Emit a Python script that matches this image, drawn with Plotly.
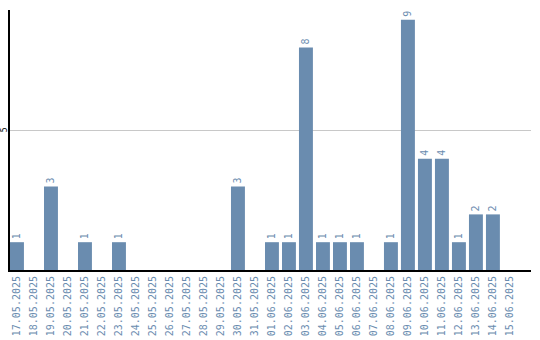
import plotly.graph_objects as go

dates = ["17.05.2025","18.05.2025","19.05.2025","20.05.2025","21.05.2025","22.05.2025",
         "23.05.2025","24.05.2025","25.05.2025","26.05.2025","27.05.2025","28.05.2025",
         "29.05.2025","30.05.2025","31.05.2025","01.06.2025","02.06.2025","03.06.2025",
         "04.06.2025","05.06.2025","06.06.2025","07.06.2025","08.06.2025","09.06.2025",
         "10.06.2025","11.06.2025","12.06.2025","13.06.2025","14.06.2025","15.06.2025"]
values = [1,0,3,0,1,0,1,0,0,0,0,0,0,3,0,1,1,8,1,1,1,0,1,9,4,4,1,2,2,0]

labels = [str(v) if v > 0 else "" for v in values]
color = "#6a8caf"

fig = go.Figure(go.Bar(
    x=dates, y=values, marker_color=color, marker_line_width=0,
    text=labels, textposition="outside", textangle=-90,
    textfont=dict(family="DejaVu Sans Mono", size=10, color=color),
    cliponaxis=False, hoverinfo="skip"))

fig.update_layout(
    width=540, height=340, margin=dict(l=10, r=9, t=10, b=70),
    paper_bgcolor="white", plot_bgcolor="white", showlegend=False,
    bargap=0.18, uniformtext=dict(minsize=10, mode="show"),
    xaxis=dict(type="category", range=[-0.41, 30.24], showgrid=False, automargin=False,
               showline=True, linecolor="black", linewidth=2, ticks="",
               tickangle=-90, tickfont=dict(family="DejaVu Sans Mono", size=10, color=color)),
    yaxis=dict(range=[0, 9.35], tickvals=[5], ticktext=["5"], showgrid=True, automargin=False,
               gridcolor="#c8c8c8", gridwidth=1, showline=True, linecolor="black",
               linewidth=2, ticks="", zeroline=False, tickangle=-90, ticklabelstandoff=-2,
               tickfont=dict(family="DejaVu Sans Mono", size=8, color="black")),
)

fig.write_html("out.html")
